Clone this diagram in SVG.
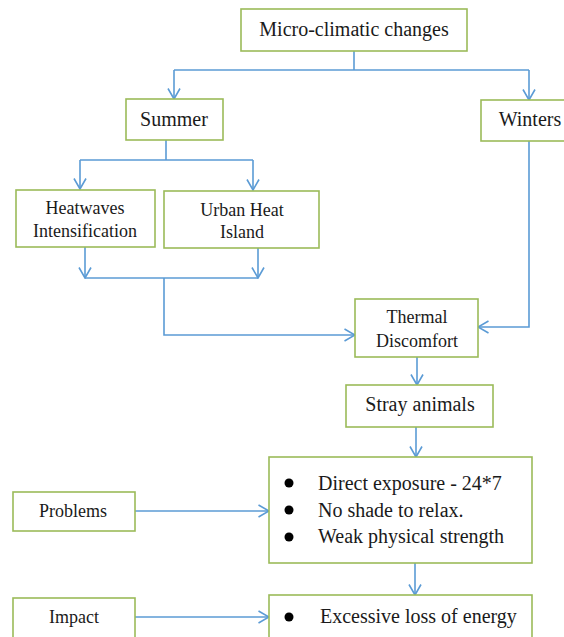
<svg xmlns="http://www.w3.org/2000/svg" width="564" height="637" viewBox="0 0 564 637">
<style>
.box{fill:#fff;stroke:#9BBB59;stroke-width:1.6}
.t{font-family:"Liberation Serif","Times New Roman",serif;fill:#1a1a1a;text-anchor:middle}
.tl{font-family:"Liberation Serif","Times New Roman",serif;fill:#1a1a1a}
.c{fill:none;stroke:#5B9BD5;stroke-width:1.6}
.a{marker-end:url(#arr)}
</style>
<defs>
<marker id="arr" markerUnits="userSpaceOnUse" viewBox="0 0 12 14" refX="11" refY="7" markerWidth="12" markerHeight="14" orient="auto">
<path d="M0.5,1 L11,7 L0.5,13" fill="none" stroke="#5B9BD5" stroke-width="1.6"/>
</marker>
</defs>
<rect width="564" height="637" fill="#fff"/>
<g id="connectors">
<path class="c" d="M354,51 V70"/>
<path class="c" d="M174,70 H529"/>
<path class="c a" d="M174,70 V99"/>
<path class="c a" d="M529,70 V100"/>
<path class="c" d="M166,140 V160 M80,160 H253"/>
<path class="c a" d="M80,160 V189"/>
<path class="c a" d="M253,160 V190"/>
<path class="c a" d="M85,247 V278"/>
<path class="c a" d="M258,248 V278"/>
<path class="c" d="M85,278 H258"/>
<path class="c a" d="M164,278 V335 H355"/>
<path class="c a" d="M529,141 V327 H478"/>
<path class="c a" d="M417,357 V385"/>
<path class="c a" d="M416,427 V457"/>
<path class="c a" d="M135,511 H269"/>
<path class="c a" d="M415,563 V595"/>
<path class="c a" d="M135,617 H269"/>
</g>
<g id="micro">
<rect class="box" x="241" y="9" width="226" height="42"/>
<text class="t" x="354" y="36" font-size="20">Micro-climatic changes</text>
</g>
<g id="summer">
<rect class="box" x="126" y="99" width="97" height="41"/>
<text class="t" x="174" y="126" font-size="20">Summer</text>
</g>
<g id="winters">
<rect class="box" x="481" y="100" width="96" height="41"/>
<text class="t" x="530" y="126" font-size="20">Winters</text>
</g>
<g id="heatwaves">
<rect class="box" x="16" y="190" width="139" height="57"/>
<text class="t" x="85" y="214" font-size="18">Heatwaves</text>
<text class="t" x="85" y="237" font-size="18">Intensification</text>
</g>
<g id="uhi">
<rect class="box" x="164" y="191" width="155" height="57"/>
<text class="t" x="242" y="216" font-size="18">Urban Heat</text>
<text class="t" x="242" y="238" font-size="18">Island</text>
</g>
<g id="thermal">
<rect class="box" x="355" y="299" width="123" height="58"/>
<text class="t" x="417" y="323" font-size="18">Thermal</text>
<text class="t" x="417" y="347" font-size="18">Discomfort</text>
</g>
<g id="stray">
<rect class="box" x="346" y="385" width="147" height="42"/>
<text class="t" x="420" y="411" font-size="20">Stray animals</text>
</g>
<g id="issues">
<rect class="box" x="269" y="457" width="263" height="106"/>
<circle cx="289" cy="483" r="4.5" fill="#000"/>
<circle cx="289" cy="510" r="4.5" fill="#000"/>
<circle cx="289" cy="537" r="4.5" fill="#000"/>
<text class="tl" x="318" y="490" font-size="20">Direct exposure - 24*7</text>
<text class="tl" x="318" y="517" font-size="20">No shade to relax.</text>
<text class="tl" x="318" y="543" font-size="20">Weak physical strength</text>
</g>
<g id="problems">
<rect class="box" x="13" y="492" width="122" height="39"/>
<text class="t" x="73" y="517" font-size="18">Problems</text>
</g>
<g id="impact">
<rect class="box" x="13" y="598" width="122" height="50"/>
<text class="t" x="74" y="623" font-size="18">Impact</text>
</g>
<g id="energy">
<rect class="box" x="269" y="595" width="263" height="55"/>
<circle cx="289" cy="617" r="4.5" fill="#000"/>
<text class="tl" x="320" y="623" font-size="20">Excessive loss of energy</text>
</g>
</svg>
